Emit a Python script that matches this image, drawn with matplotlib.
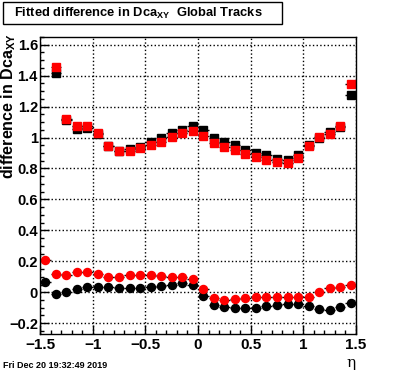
import matplotlib
matplotlib.use('Agg')
import matplotlib.pyplot as plt
import numpy as np
from matplotlib.ticker import MultipleLocator, FuncFormatter
from matplotlib.patches import Rectangle

plt.rcParams['font.family'] = ['Liberation Sans', 'DejaVu Sans']
plt.rcParams['mathtext.fontset'] = 'custom'
plt.rcParams['mathtext.bf'] = 'Liberation Sans:bold'
plt.rcParams['mathtext.rm'] = 'Liberation Sans:bold'
plt.rcParams['mathtext.default'] = 'bf'

# eta bin centres
eta = [-1.45, -1.35, -1.25, -1.15, -1.05, -0.95, -0.85, -0.75, -0.65, -0.55,
       -0.45, -0.35, -0.25, -0.15, -0.05, 0.05, 0.15, 0.25, 0.35, 0.45,
       0.55, 0.65, 0.75, 0.85, 0.95, 1.05, 1.15, 1.25, 1.35, 1.45]

# upper group (squares), first bin empty
sq_black = [np.nan, 1.417, 1.111, 1.058, 1.06, 1.021, 0.945, 0.91, 0.929, 0.94,
            0.968, 0.998, 1.03, 1.051, 1.073, 1.047, 0.998, 0.972, 0.95, 0.922,
            0.901, 0.884, 0.862, 0.852, 0.884, 0.955, 1.0, 1.036, 1.065, 1.273]
sq_red = [np.nan, 1.456, 1.122, 1.073, 1.073, 1.03, 0.946, 0.914, 0.914, 0.933,
          0.952, 0.972, 1.006, 1.03, 1.043, 1.01, 0.965, 0.94, 0.922, 0.894,
          0.875, 0.856, 0.841, 0.836, 0.868, 0.946, 1.004, 1.021, 1.073, 1.344]

# lower group (circles)
ci_black = [0.064, -0.013, 0.002, 0.019, 0.036, 0.032, 0.032, 0.026, 0.026, 0.026,
            0.036, 0.04, 0.047, 0.058, 0.047, -0.022, -0.08, -0.093, -0.099, -0.099,
            -0.099, -0.09, -0.084, -0.075, -0.075, -0.09, -0.11, -0.116, -0.097, -0.067]
ci_red = [0.208, 0.118, 0.112, 0.129, 0.129, 0.116, 0.097, 0.097, 0.112, 0.112,
          0.112, 0.105, 0.101, 0.101, 0.084, 0.019, -0.039, -0.052, -0.043, -0.039,
          -0.032, -0.032, -0.032, -0.032, -0.032, -0.028, 0.0, 0.026, 0.032, 0.047]

fig = plt.figure(figsize=(3.96, 3.72), dpi=100)
ax = fig.add_axes([40/396, 38/372, 316/396, 297/372])

ms = 5.8
for ys, mk, col in [(sq_black, 's', 'black'), (sq_red, 's', 'red'),
                    (ci_black, 'o', 'black'), (ci_red, 'o', 'red')]:
    ax.errorbar(eta, ys, xerr=0.05, fmt=mk, color=col, mfc=col, mec=col,
                ecolor='black', elinewidth=1, capsize=0, markersize=ms)

ax.set_xlim(-1.5, 1.5)
ax.set_ylim(-0.27, 1.65)

fmt = FuncFormatter(lambda v, p: ('%g' % round(v, 3)).replace('-', '\u2212'))
ax.xaxis.set_major_locator(MultipleLocator(0.5))
ax.xaxis.set_minor_locator(MultipleLocator(0.1))
ax.yaxis.set_major_locator(MultipleLocator(0.2))
ax.yaxis.set_minor_locator(MultipleLocator(0.05))
ax.xaxis.set_major_formatter(fmt)
ax.yaxis.set_major_formatter(fmt)
ax.tick_params(which='both', direction='in', top=False, right=False, width=1)
ax.tick_params(which='major', length=6.5)
ax.tick_params(which='minor', length=3.2)
ax.tick_params(axis='x', labelsize=11, pad=3)
ax.tick_params(axis='y', labelsize=10.5, pad=1.5)
for lab in ax.get_xticklabels() + ax.get_yticklabels():
    lab.set_fontweight('bold')
ax.grid(True, which='major', linestyle=':', color='black', linewidth=1)
for s in ax.spines.values():
    s.set_linewidth(1)

# title box
fig.patches.append(Rectangle((3/396, (372-24)/372), 279/396, 22/372,
                             transform=fig.transFigure, fill=True,
                             facecolor='white', edgecolor='black', linewidth=1))
fig.text(14/396, (372-13)/372, r'Fitted difference in Dca$_{XY}$  Global Tracks',
         fontsize=9.3, fontweight='bold', va='center', ha='left')

fig.text(9/396, (372-33)/372, r'difference in Dca$_{XY}$', rotation=90,
         fontsize=11.5, fontweight='bold', ha='center', va='top')
fig.text(351/396, (372-363)/372, '\u03b7', fontsize=11, ha='center', va='center',
         family='DejaVu Serif')
fig.text(3/396, (372-366)/372, 'Fri Dec 20 19:32:49 2019', fontsize=6.5,
         fontweight='bold', ha='left', va='center')

fig.savefig('out.png', dpi=100)
